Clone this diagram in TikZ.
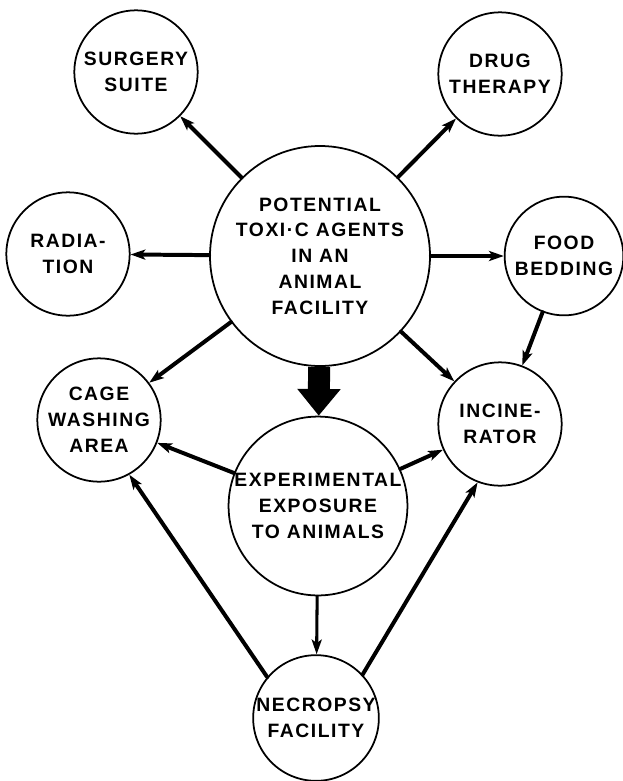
\documentclass[tikz,border=0pt]{standalone}
\usepackage{fontspec}
\setmainfont{Liberation Sans}[LetterSpace=8]
\usetikzlibrary{arrows.meta}

\begin{document}
\begin{tikzpicture}[x=0.03cm,y=-0.03cm,line join=round,line cap=round,
    font=\fontsize{16.5}{22}\selectfont\bfseries,
    >={Stealth[length=0.44cm,width=0.3cm,inset=0.1cm]},
    place/.style={circle,draw,line width=1.5pt,inner sep=0pt,align=center,minimum size=#1},
    place/.default=3.7cm,
    link/.style={->,line width=3.4pt}]
    \useasboundingbox (0,0) rectangle (623,781);
    % circles
    \node[place=6.6cm] (toxic) at (320,256) {POTENTIAL\\TOXI·C AGENTS\\IN AN\\ANIMAL\\FACILITY};
    \node[place] (surgery) at (136,72) {SURGERY\\SUITE};
    \node[place] (drug) at (500,74) {DRUG\\THERAPY};
    \node[place] (radiation) at (68,254) {RADIA-\\TION};
    \node[place=3.56cm] (food) at (564,256) {FOOD\\BEDDING};
    \node[place] (cage) at (99,420) {CAGE\\WASHING\\AREA};
    \node[place] (incin) at (500,424) {INCINE-\\RATOR};
    \node[place=5.2cm] (exp) at (318,506) {EXPERIMENTAL\\EXPOSURE\\TO ANIMALS};
    \node[place] (necropsy) at (316,718) {NECROPSY\\FACILITY};
    % arrows
    \foreach \t in {surgery,drug,radiation,food,cage,incin}
    \draw[link] (toxic) -- (\t);
    \draw[line width=0.66cm,line cap=butt,-{Triangle[length=0.8cm,width=1.25cm]}] (toxic) -- (exp);
    \draw[link] (food) -- (incin);
    \draw[link] (exp) -- (cage);
    \draw[link] (exp) -- (incin);
    \draw[link,line width=2.6pt] (exp) -- (necropsy);
    \draw[link] (necropsy.140) -- (cage.-61);
    \draw[link] (necropsy.43) -- (incin.-111);
\end{tikzpicture}
\end{document}
